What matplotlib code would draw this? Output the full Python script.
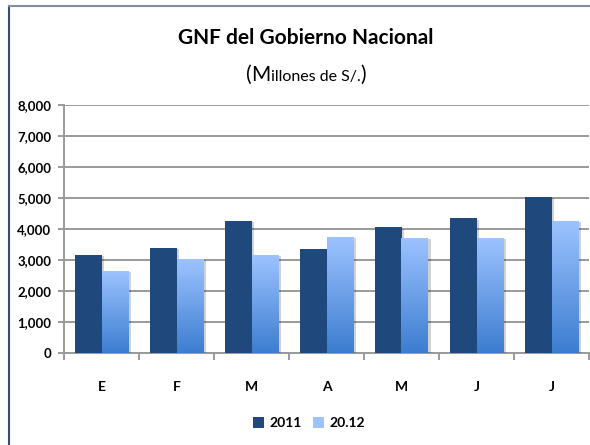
import matplotlib
matplotlib.use("Agg")
import matplotlib.pyplot as plt
import numpy as np
from matplotlib.patches import Patch
from matplotlib.colors import LinearSegmentedColormap
import matplotlib.patheffects as pe

plt.rcParams['font.family'] = ['Lato', 'DejaVu Sans']

categories = ["E", "F", "M", "A", "M", "J", "J"]
series_2011 = [3160, 3390, 4260, 3350, 4060, 4350, 5030]
series_2012 = [2650, 3030, 3160, 3740, 3710, 3710, 4260]
legend_labels = ["2011", "20.12"]
yticks = [0, 1000, 2000, 3000, 4000, 5000, 6000, 7000, 8000]

dark = "#1F497D"
grad_top = "#9DC3FF"
grad_bot = "#3C7DD0"
grid_col = "#9A9A9A"

fig = plt.figure(figsize=(5.90, 4.45), dpi=100)
fig.patch.set_facecolor("white")

# outer chart border
fig.add_artist(plt.Line2D([9/590, 9/590], [0, 1 - 6/445], color="#3B4D6E", lw=1.5, transform=fig.transFigure))
fig.add_artist(plt.Line2D([9/590, 1], [1 - 6/445, 1 - 6/445], color="#8090A4", lw=1.5, transform=fig.transFigure))

ax = fig.add_axes([64/590, (445-353)/445, 525/590, 248/445])
n = len(categories)
x = np.arange(n)
w = 0.36

shadow = [pe.SimplePatchShadow(offset=(2, -1), alpha=0.18, shadow_rgbFace="#000000"), pe.Normal()]
ax.bar(x - w/2, series_2011, width=w, color=dark, zorder=3, path_effects=shadow)
bars2 = ax.bar(x + w/2, series_2012, width=w, color=grad_bot, zorder=3, path_effects=shadow)

cmap = LinearSegmentedColormap.from_list("g", [grad_bot, grad_top])
grad = np.linspace(0, 1, 256).reshape(-1, 1)
for b in bars2:
    bx, by = b.get_x(), b.get_y()
    bw, bh = b.get_width(), b.get_height()
    im = ax.imshow(grad, cmap=cmap, origin="lower", aspect="auto",
                   extent=[bx, bx + bw, by, by + bh], zorder=3.5)
    im.set_clip_path(b)

ax.set_xlim(-0.5, n - 0.5)
ax.set_ylim(0, 8000)
ax.set_yticks(yticks)
ax.set_yticklabels([f"{v:,}" for v in yticks], fontsize=9.5, fontweight="bold")
ax.yaxis.grid(True, color=grid_col, lw=1.4, zorder=0)
ax.set_axisbelow(True)
for s in ["top", "right"]:
    ax.spines[s].set_visible(False)
for s in ["left", "bottom"]:
    ax.spines[s].set_color(grid_col)
    ax.spines[s].set_linewidth(1.4)
ax.tick_params(axis="y", length=4, color=grid_col, width=1.4, pad=5)

ax.set_xticks(x)
ax.set_xticklabels(categories, fontsize=10, fontweight="bold")
ax.tick_params(axis="x", length=0, pad=20)
ax.set_xticks(np.arange(-0.5, n, 1.0), minor=True)
ax.tick_params(axis="x", which="minor", length=5, color=grid_col, width=1.4)

# title
fig.text(306/590, 1 - 38/445, "GNF del Gobierno Nacional", ha="center", va="center",
         fontsize=15, fontweight="bold")

# subtitle with mixed sizes
fig.canvas.draw()
r = fig.canvas.get_renderer()
parts = [("(", 15), ("M", 15), ("illones de S/.", 11.5), (")", 15)]
ybase = 1 - 81/445
texts = []
for s, fs in parts:
    t = fig.text(0, ybase, s, fontsize=fs, va="baseline", ha="left")
    texts.append(t)
widths = [t.get_window_extent(r).width for t in texts]
total = sum(widths)
xstart = 306 - total/2
for t, wd in zip(texts, widths):
    t.set_x(xstart/590)
    xstart += wd

handles = [Patch(facecolor=dark), Patch(facecolor=grad_top)]
leg = fig.legend(handles, legend_labels, loc="center", bbox_to_anchor=(309/590, 1 - 423/445),
                 ncol=2, frameon=False, handlelength=0.8, handleheight=0.8,
                 handletextpad=0.4, columnspacing=0.8,
                 prop={"weight": "bold", "size": 10})

fig.savefig("out.png", dpi=100, facecolor="white")
